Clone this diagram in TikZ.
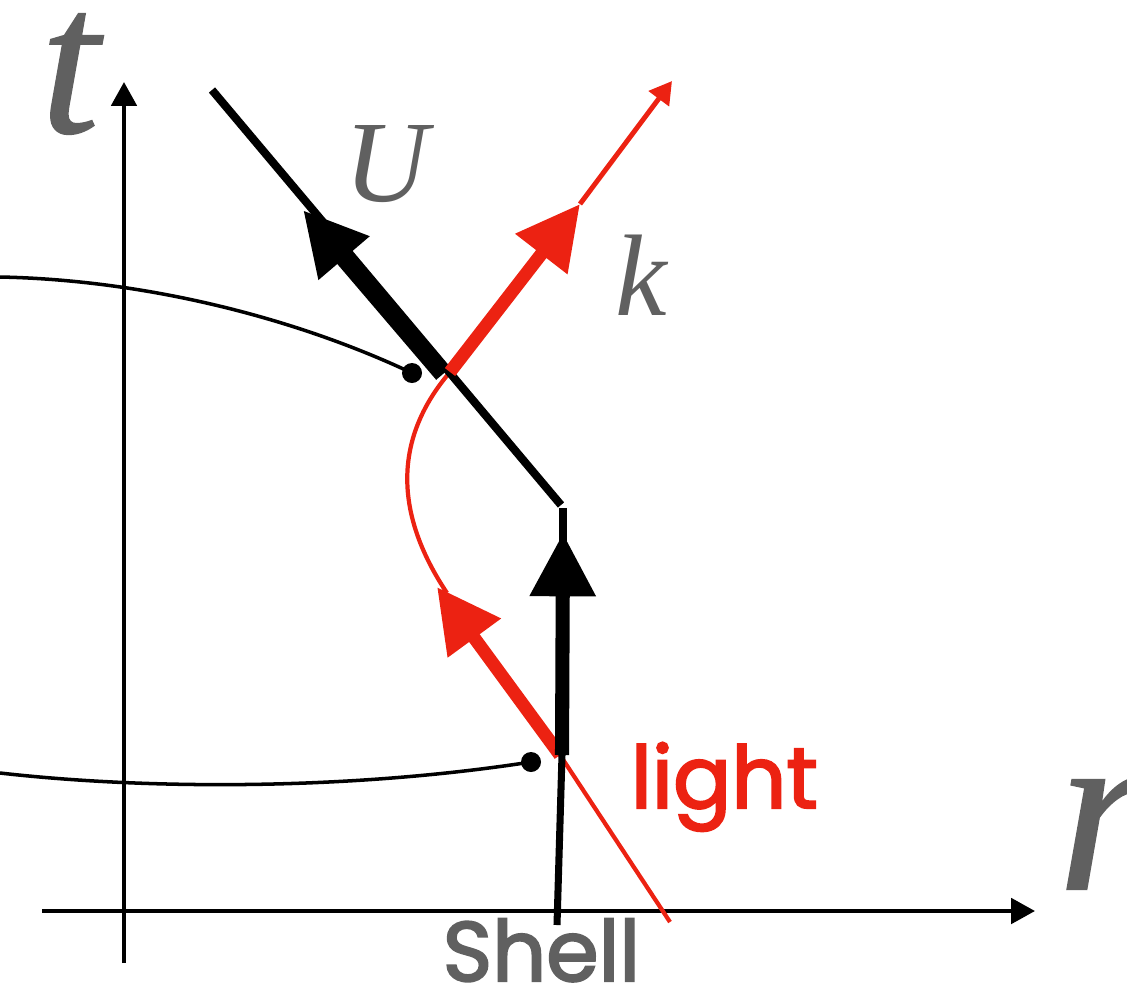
\documentclass[tikz,border=0pt]{standalone}
\usepackage{fontspec}
\setmainfont{Liberation Serif}
\newfontfamily\labelsans[FakeBold=2.5]{Poppins}
\newfontfamily\heavyital[FakeBold=0.7]{Liberation Serif}
\usetikzlibrary{arrows.meta}
\definecolor{lightred}{RGB}{236,34,18}
\definecolor{labelgray}{RGB}{96,96,96}

\begin{document}
\begin{tikzpicture}[x=0.01cm,y=-0.01cm,
    axis/.style={line width=1.15pt,-{Triangle[length=6.8pt,width=7.2pt]}},
    thin/.style={line width=1pt},
    dot/.style={circle,fill,inner sep=0pt,minimum size=0.2cm},
    world/.style={line width=2.3pt},
    vec/.style={line width=#1,-{Triangle[length=18pt,width=17.8pt]}},
    ray/.style={lightred,line width=1.2pt},
    sym/.style={labelgray,inner sep=0pt}]
    \useasboundingbox (0,0) rectangle (1127,987);

    % axes
    \coordinate (tb) at (124,963); \coordinate (tt) at (124,82);
    \coordinate (rl) at (42,911);  \coordinate (rr) at (1035,911);
    \draw[axis] (tb) -- (tt);
    \draw[axis] (rl) -- (rr);

    % constant time slices
    \node[dot] (p1) at (412,373) {};
    \node[dot] (p2) at (531,762) {};
    \coordinate (c1) at (0,277); \coordinate (c2) at (0,773);
    \draw[thin] (c1) .. controls (150,280) and (300,320) .. (p1.center);
    \draw[thin] (c2) .. controls (150,790) and (350,790) .. (p2.center);

    % light ray
    \coordinate (l0) at (670,922); \coordinate (l1) at (560,755);
    \coordinate (l2) at (437,587); \coordinate (l3) at (447,593);
    \coordinate (l4) at (450,372); \coordinate (l5) at (580,204);
    \coordinate (l6) at (672,81);
    \draw[ray] (l0) -- (l1);
    \draw[ray] (l3) .. controls (395,515) and (392,440) .. (l4);
    \draw[ray,vec=3.7pt] (l1) -- (l2);

    % shell worldline
    \coordinate (s0) at (557,925); \coordinate (s1) at (562,755);
    \coordinate (s2) at (563,533); \coordinate (s3) at (563,508);
    \coordinate (s4) at (561,505); \coordinate (s5) at (212,90);
    \coordinate (s6) at (563,565);
    \coordinate (u0) at (443,374); \coordinate (u1) at (303,210);
    \draw[line width=2pt] (s0) -- (s1);
    \draw[world] (s6) -- (s3);
    \draw[world] (s4) -- (s5);
    \draw[vec=4pt] (s1) -- (s2);
    \draw[vec=5.1pt] (u0) -- (u1);

    \draw[ray,vec=3.7pt] (l4) -- (l5);
    \draw[ray,line width=1.4pt,-{Triangle[length=6.3pt,width=7pt]}] (l5) -- (l6);

    % labels
    \node[sym,font=\heavyital\fontsize{60}{60}\selectfont\itshape] (tlab) at (70,74) {t};
    \node[sym,font=\heavyital\fontsize{68}{68}\selectfont\itshape] (rlab) at (1104,833) {r};
    \node[sym,font=\fontsize{33}{33}\selectfont\itshape] (ulab) at (386,164) {U};
    \node[sym,font=\fontsize{33}{33}\selectfont\itshape] (klab) at (641,275) {k};
    \node[lightred,anchor=base west,inner sep=0pt,font=\labelsans\fontsize{24.5}{24.5}\selectfont] (light) at (630,808) {light};
    \node[labelgray,anchor=base west,inner sep=0pt,font=\labelsans\fontsize{24}{24}\selectfont] (shell) at (442,981) {Shell};
\end{tikzpicture}
\end{document}
